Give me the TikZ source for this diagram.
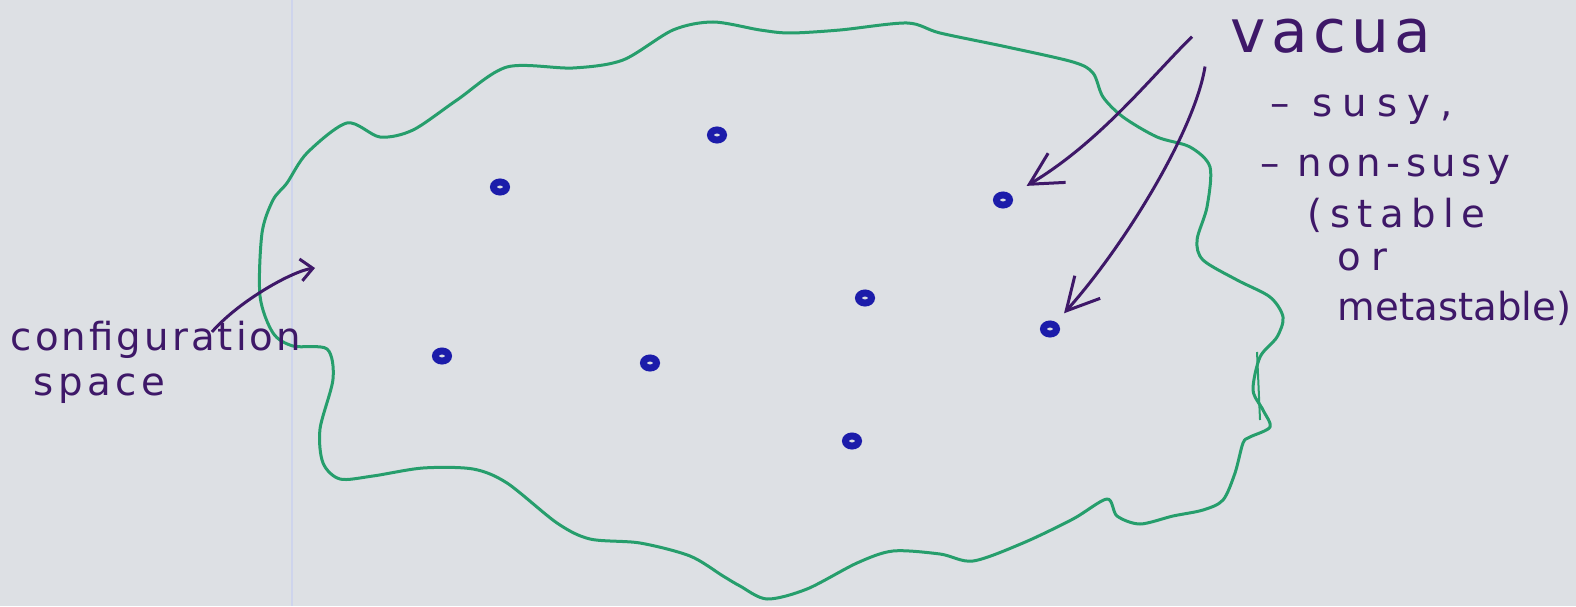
\documentclass[tikz,border=0pt]{standalone}
\usepackage{fontspec}
\newfontfamily\hand{DejaVu Sans}
\usetikzlibrary{arrows.meta,shapes.geometric}

\definecolor{paper}{RGB}{221,224,228}
\definecolor{margin}{RGB}{206,212,236}
\definecolor{marker}{RGB}{38,158,108}
\definecolor{ink}{RGB}{62,24,104}
\definecolor{dotblue}{RGB}{28,28,170}

\tikzset{
  outline/.style={draw=marker, line width=0.3mm, line join=round},
  vacuum/.style={ellipse, draw=dotblue, line width=0.7mm, minimum width=1.3mm, minimum height=1.0mm, inner sep=0pt},
  pen/.style={text=ink, inner sep=0pt, anchor=base west,
    font=\hand\fontsize{11}{13}\selectfont\addfontfeatures{LetterSpace=#1}},
  pen/.default=15,
  pointer/.style={draw=ink, line width=0.3mm, -{Straight Barb[length=3.2mm,width=3.4mm]}},
}

\begin{document}
\begin{tikzpicture}[x=0.1mm, y=-0.1mm]
  % sheet of paper
  \fill[paper] (0,0) rectangle (1576,606);
  \useasboundingbox (0,0) rectangle (1576,606);
  \draw[margin, line width=0.15mm] (292,0) -- (292,606);

  % configuration space (hand drawn blob)
  \draw[outline] plot[smooth cycle, tension=0.5] coordinates {
    (260,296) (262,233) (273,200) (287,183) (307,153) (347,123) (380,137)
    (413,130) (457,100) (507,67) (573,68) (623,60) (673,30) (713,22)
    (760,30) (790,33) (840,30) (907,23) (940,33) (1007,47) (1073,62)
    (1093,73) (1103,97) (1123,117) (1157,137) (1190,147) (1210,167)
    (1207,207) (1197,240) (1203,260) (1237,280) (1270,297) (1283,317)
    (1277,337) (1260,357) (1253,390) (1263,410) (1270,427) (1250,437)
    (1243,443) (1235,473) (1223,500) (1203,510) (1173,516) (1140,524)
    (1117,516) (1107,499) (1073,519) (1023,543) (973,561) (940,554)
    (893,551) (857,563) (807,589) (767,599) (740,586) (723,576)
    (690,556) (640,543) (590,539) (557,523) (507,483) (473,469)
    (423,468) (373,476) (340,479) (323,463) (320,429) (333,379)
    (327,349) (293,346) (273,333)};
  \draw[marker, line width=0.2mm] (1257,352) -- (1260,420);

  % vacua
  \foreach \n/\x/\y in {1/500/187, 2/717/135, 3/1003/200, 4/865/298,
                        5/442/356, 6/650/363, 7/1050/329, 8/852/441}
    \node[vacuum] (vac\n) at (\x,\y) {};

  % labels
  \node[pen=8] (config) at (10,350) {configuration};
  \node[pen=12] (space) at (33,395) {space};
  \node[pen, font=\hand\fontsize{17}{20}\selectfont\addfontfeatures{LetterSpace=9}] (vacua) at (1230,53) {vacua};
  \node[pen=26] (susy) at (1270,117) {– susy,};
  \node[pen=14] (nonsusy) at (1260,177) {– non-susy};
  \node[pen=19] (stable) at (1307,227) {(stable};
  \node[pen=25] (or) at (1337,270) {or};
  \node[pen=0] (meta) at (1337,320) {metastable)};

  % arrows
  \coordinate (cfgtip) at (315,268);
  \draw[pointer, -{Straight Barb[length=1.2mm,width=2.2mm]}]
    ([xshift=5.6mm,yshift=-1.2mm]config.north) .. controls (240,300) and (293,271) .. (cfgtip);
  \draw[pointer, shorten >=1.8mm] ([xshift=-3.8mm]vacua.west)
    .. controls (1150,78) and (1100,142) .. (vac3);
  \draw[pointer, shorten >=1.2mm] ([shift={(-2.5mm,-1.2mm)}]vacua.south west)
    .. controls (1195,130) and (1125,245) .. (vac7);
\end{tikzpicture}
\end{document}
